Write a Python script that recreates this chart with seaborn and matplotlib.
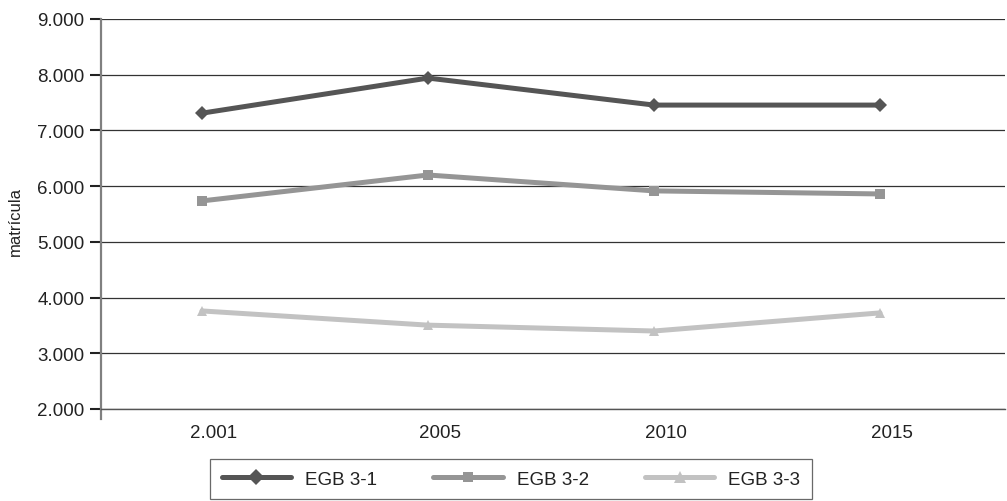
import matplotlib
matplotlib.use("Agg")
import matplotlib.pyplot as plt
from matplotlib.ticker import FuncFormatter, MultipleLocator, FixedLocator
from matplotlib.transforms import ScaledTranslation
import seaborn as sns
import pandas as pd

# Enrolment by year for each EGB cycle
years = ["2.001", "2005", "2010", "2015"]
egb_3_1 = [7310, 7940, 7455, 7455]
egb_3_2 = [5735, 6200, 5915, 5860]
egb_3_3 = [3760, 3505, 3400, 3725]
series_names = ["EGB 3-1", "EGB 3-2", "EGB 3-3"]

df = pd.DataFrame({
    "year": years * 3,
    "value": egb_3_1 + egb_3_2 + egb_3_3,
    "serie": [n for n in series_names for _ in years],
})

sns.set_style("white")
plt.rcParams["font.family"] = ["Liberation Sans", "DejaVu Sans"]

FS = 13.5
TXT = "#222222"

fig = plt.figure(figsize=(10.07, 5.02), dpi=100)
ax = fig.add_axes([101 / 1007, (502 - 410) / 502, (1005 - 101) / 1007, (410 - 20) / 502])

palette = {"EGB 3-1": "#555555", "EGB 3-2": "#959595", "EGB 3-3": "#c2c2c2"}
markers = {"EGB 3-1": "D", "EGB 3-2": "s", "EGB 3-3": "^"}
msizes = {"EGB 3-1": 8, "EGB 3-2": 6.5, "EGB 3-3": 9}

sns.lineplot(data=df, x="year", y="value", hue="serie", style="serie",
             palette=palette, markers=markers, dashes=False, sort=False,
             linewidth=3.6, markersize=7, markeredgewidth=0, ax=ax, legend=True)

# points sit slightly left of each category slot
shift = ScaledTranslation(-12 / 100, 0, fig.dpi_scale_trans)
for line in ax.get_lines():
    lab = line.get_label()
    line.set_transform(line.get_transform() + shift)
    if lab in msizes:
        line.set_markersize(msizes[lab])

ax.set_ylim(2000, 9000)
ax.set_xlim(-0.5, 3.5)
ax.yaxis.set_major_locator(MultipleLocator(1000))
ax.yaxis.set_major_formatter(FuncFormatter(lambda v, p: f"{int(v):,}".replace(",", ".")))
ax.grid(axis="y", color="#333333", linewidth=0.9)
ax.set_axisbelow(True)

ax.set_xticks(range(len(years)))
ax.set_xticklabels(years)
ax.xaxis.set_minor_locator(FixedLocator([0.5, 1.5, 2.5]))
ax.tick_params(axis="x", which="major", length=0, pad=11, labelsize=FS, labelcolor=TXT)
ax.tick_params(axis="x", which="minor", length=8, width=0.9, color="#444444", direction="out")
ax.tick_params(axis="y", length=8, width=1.5, color="#222222", labelsize=FS,
               labelcolor=TXT, left=True, direction="out", pad=4)

for s in ["top", "right"]:
    ax.spines[s].set_visible(False)
ax.spines["left"].set_color("#808080")
ax.spines["left"].set_linewidth(1.6)
ax.spines["left"].set_bounds(1820, 9000)
ax.spines["bottom"].set_color("#555555")
ax.spines["bottom"].set_linewidth(1.0)

ax.set_xlabel("")
ax.set_ylabel("matrícula", fontsize=12, color=TXT)
ax.yaxis.set_label_coords(15 / 1007, 1 - 222 / 502, transform=fig.transFigure)
ax.yaxis.label.set_va("center")

handles, labels = ax.get_legend_handles_labels()
for h, lab in zip(handles, labels):
    h.set_linewidth(3.6)
    h.set_markersize(msizes.get(lab, 7))
ax.get_legend().remove()
leg = fig.legend(handles, labels, loc="center", bbox_to_anchor=(511 / 1007, 1 - 480 / 502),
                 ncol=3, frameon=True, fancybox=False, edgecolor="#444444",
                 fontsize=FS, handlelength=3.7, handletextpad=0.75, columnspacing=3.0,
                 borderpad=0.62, borderaxespad=0)
leg.get_frame().set_linewidth(0.9)
for t in leg.get_texts():
    t.set_color(TXT)

fig.savefig("out.png", dpi=100)
